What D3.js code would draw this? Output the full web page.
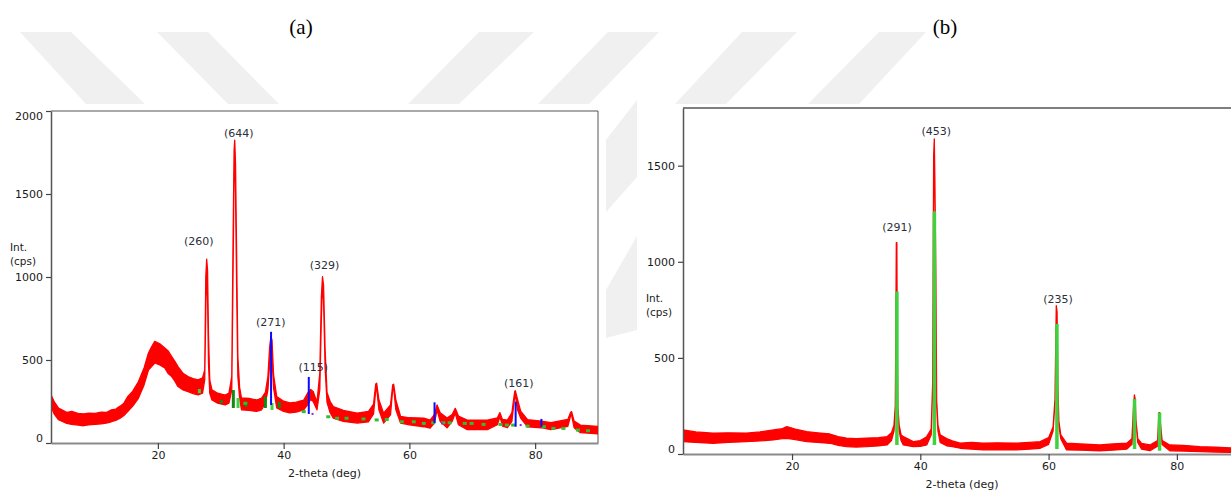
<!DOCTYPE html>
<html>
<head>
<meta charset="utf-8">
<script src="https://cdn.jsdelivr.net/npm/d3@7"></script>
<style>
  html, body { margin: 0; padding: 0; background: #fff; }
  svg { display: block; }
  .tick text { font-family: "DejaVu Sans", Verdana, sans-serif; font-size: 11px; fill: #1a1a1a; }
</style>
</head>
<body>
<svg id="chart" width="1231" height="490"></svg>
<script>
// ---- data ----
const xTicks = [20, 40, 60, 80];
const yTicksA = [0, 500, 1000, 1500, 2000];
const yTicksB = [0, 500, 1000, 1500];

// measured trace, as [2-theta, low edge, high edge] of the noisy band (cps)
const traceA = [
  [3.0, 220, 290], [3.5, 175, 250], [4.2, 140, 210], [5.5, 118, 185], [6.3, 112, 190], [7.3, 108, 178],
  [8.2, 104, 176], [9.0, 110, 180], [10.0, 112, 178], [11.0, 116, 186], [11.8, 120, 184], [12.6, 128, 200],
  [13.3, 136, 204], [14.0, 150, 222], [14.6, 166, 240], [15.2, 189, 279], [16.0, 222, 312], [16.9, 269, 369],
  [17.8, 350, 452], [18.5, 440, 542], [19.0, 460, 580], [19.5, 482, 612], [20.3, 470, 598], [21.1, 452, 572],
  [21.6, 420, 556], [22.2, 400, 520], [22.7, 372, 492], [23.2, 340, 460], [24.0, 320, 420], [24.8, 309, 400],
  [25.6, 298, 388], [26.4, 290, 380], [27.1, 300, 392], [27.45, 380, 440],
  [27.62, 800, 1000], [27.76, 1060, 1107], [27.9, 880, 1040], [28.05, 480, 650], [28.25, 300, 380],
  [28.6, 259, 320], [29.5, 240, 300], [30.7, 229, 289], [31.3, 240, 300], [31.75, 320, 400],
  [31.95, 1000, 1200], [32.12, 1650, 1760], [32.22, 1760, 1825], [32.35, 1500, 1680], [32.52, 950, 1150],
  [32.72, 400, 520], [33.0, 270, 335], [33.3, 200, 271], [34.5, 196, 268], [35.7, 190, 259],
  [36.5, 200, 270], [37.1, 240, 305], [37.5, 320, 400], [37.78, 480, 580], [37.98, 600, 642],
  [38.15, 520, 620], [38.4, 330, 410], [38.9, 212, 280], [40.0, 190, 252], [41.0, 181, 241],
  [42.0, 186, 246], [43.2, 199, 259], [43.8, 230, 300], [44.3, 262, 322], [44.7, 250, 310],
  [45.3, 200, 245], [45.75, 320, 420], [46.0, 750, 880], [46.18, 960, 1002], [46.35, 860, 950],
  [46.6, 450, 560], [46.9, 245, 305], [47.4, 182, 250], [47.9, 150, 220], [49.5, 130, 196],
  [51.7, 120, 180], [53.5, 128, 190], [54.3, 175, 235], [54.65, 320, 355], [54.8, 330, 360],
  [55.15, 200, 260], [55.9, 120, 180], [57.0, 170, 230], [57.35, 325, 350], [57.5, 330, 354],
  [57.85, 200, 260], [58.6, 120, 160], [60.0, 110, 152], [62.3, 98, 150], [63.3, 90, 138],
  [64.0, 122, 172], [64.4, 200, 229], [64.9, 130, 182], [66.0, 92, 150], [66.8, 130, 172],
  [67.3, 180, 209], [67.8, 110, 162], [69.2, 80, 138], [72.4, 80, 138], [74.0, 110, 152],
  [74.4, 160, 183], [74.8, 102, 142], [75.6, 92, 138], [76.3, 130, 182], [76.75, 280, 310],
  [76.85, 290, 315], [77.2, 200, 262], [77.7, 150, 192], [78.8, 98, 140], [81.0, 92, 132],
  [82.5, 80, 122], [85.2, 100, 142], [85.65, 165, 185], [85.8, 168, 189], [86.2, 92, 132],
  [87.2, 62, 108], [90.0, 55, 100]
];

const traceB = [
  [3.0, 64, 125], [5.0, 60, 115], [7.7, 56, 108], [10.0, 60, 110], [12.9, 64, 109],
  [15.0, 68, 115], [17.1, 73, 125], [18.5, 80, 132], [19.2, 82, 142], [20.5, 75, 130], [22.3, 64, 116],
  [24.0, 60, 110], [25.9, 56, 104], [27.2, 45, 90], [28.5, 38, 83], [30.0, 36, 80],
  [31.6, 38, 83], [33.5, 42, 85], [34.8, 47, 90], [35.5, 70, 110], [35.9, 120, 150],
  [36.1, 230, 250], [36.18, 600, 625], [36.26, 1080, 1100], [36.34, 1080, 1100], [36.42, 500, 520],
  [36.5, 230, 245], [36.7, 120, 150], [37.0, 70, 100], [37.35, 47, 90], [38.9, 38, 64],
  [40.0, 40, 70], [41.0, 47, 90], [41.7, 100, 130], [41.93, 350, 370], [42.08, 1500, 1550],
  [42.18, 1600, 1639], [42.28, 1300, 1400], [42.42, 900, 932], [42.55, 250, 280], [42.75, 120, 150],
  [43.1, 60, 100], [44.1, 43, 80], [45.0, 38, 68], [46.2, 30, 56], [48.0, 25, 60],
  [49.8, 21, 56], [52.0, 22, 58], [55.0, 21, 56], [57.0, 25, 60], [58.7, 30, 64],
  [60.0, 50, 85], [60.7, 120, 140], [61.0, 270, 286], [61.2, 750, 772], [61.32, 700, 740],
  [61.45, 340, 354], [61.6, 150, 170], [61.9, 80, 100], [62.8, 21, 56], [65.0, 20, 52],
  [68.0, 17, 47], [70.0, 20, 52], [72.2, 26, 56], [73.0, 50, 80], [73.25, 200, 250],
  [73.38, 290, 307], [73.5, 250, 286], [73.62, 170, 177], [73.9, 60, 80], [74.5, 25, 55],
  [75.8, 17, 47], [77.0, 40, 70], [77.2, 200, 215], [77.32, 200, 215], [77.45, 150, 156],
  [77.7, 50, 70], [78.9, 17, 47], [81.0, 15, 45], [83.6, 12, 38], [86.0, 10, 35],
  [88.3, 8, 32], [90.0, 8, 30]
];

// reference pattern lines: [2-theta, from, to]
const blueA = [[38.0, 229, 670], [44.0, 175, 398], [64.0, 120, 245], [76.9, 98, 249], [81.0, 98, 145]];
// green reference bars: [2-theta, from, to, dark?]
const greenA = [
  [26.6, 300, 325, 0], [30.1, 240, 260, 1], [32.0, 211, 319, 1], [32.75, 211, 271, 0],
  [34.0, 219, 249, 1], [37.1, 211, 279, 1], [38.15, 199, 241, 0], [39.3, 211, 249, 1]
];
// small green dashes sitting on the background: [2-theta, cps]
const greenDashA = [
  [33.9, 239], [43.2, 189], [47.1, 158], [48.5, 149], [50.0, 149], [52.7, 145], [54.8, 139],
  [56.4, 142], [58.8, 128], [60.7, 128], [62.3, 118], [63.8, 122], [65.4, 122], [66.4, 122],
  [68.8, 118], [69.9, 118], [71.8, 112], [74.5, 112], [75.5, 108], [76.5, 108], [78.8, 102],
  [81.4, 98], [82.9, 88], [84.5, 88], [86.8, 78], [88.4, 74]
];
const purpleA = [[44.6, 175], [65.2, 118], [77.7, 108]];
const greenB = [[36.35, 47, 845], [42.2, 47, 1262], [61.3, 26, 677], [73.4, 26, 286], [77.3, 17, 215]];

// peak annotations: [text, 2-theta, cps] (label centre)
const labelsA = [["(260)", 26.5, 1213], ["(644)", 32.86, 1867], ["(271)", 37.96, 725],
  ["(115)", 44.7, 455], ["(329)", 46.5, 1072], ["(161)", 77.4, 361]];
const labelsB = [["(291)", 36.37, 1179], ["(453)", 42.48, 1677], ["(235)", 61.47, 806]];

// ---- drawing ----
const svg = d3.select("#chart");

// faint watermark stripes behind everything
const stripes = [
  [[20, 32], [71, 32], [145, 104], [86, 104]],
  [[157, 32], [208, 32], [279, 104], [228, 104]],
  [[479, 32], [534, 32], [459, 104], [408, 104]],
  [[608, 32], [659, 32], [589, 104], [538, 104]],
  [[742, 32], [797, 32], [726, 104], [675, 104]],
  [[879, 32], [926, 32], [859, 104], [808, 104]],
  [[637, 100], [637, 177], [606, 212], [606, 140]],
  [[637, 236], [637, 330], [606, 338], [606, 290]]
];
svg.append("g").selectAll("polygon").data(stripes).join("polygon")
  .attr("points", d => d.map(p => p.join(",")).join(" "))
  .attr("fill", "#f0f0f0");

function drawPanel(o) {
  const x = d3.scaleLinear().domain([3, 90]).range([o.left, o.right]);
  const y = d3.scaleLinear().domain([0, o.yMax]).range([o.bottom, o.top]);
  const g = svg.append("g");

  g.append("clipPath").attr("id", "clip" + o.id).append("rect")
    .attr("x", o.left).attr("y", o.top - 4)
    .attr("width", o.right - o.left).attr("height", o.bottom - o.top + 4);

  // frame (top + right)
  g.append("path")
    .attr("d", `M${o.left},${o.top}H${o.right}V${o.bottom}`)
    .attr("fill", "none").attr("stroke", "#555").attr("stroke-width", o.frameW);

  const plot = g.append("g").attr("clip-path", `url(#clip${o.id})`);

  const area = d3.area()
    .x(d => x(d[0]))
    .y0(d => y(d[1]))
    .y1(d => y(d[2]));

  plot.append("path")
    .datum(o.trace)
    .attr("d", area)
    .attr("fill", "#ff0000")
    .attr("stroke", "#ff0000")
    .attr("stroke-width", 1.3)
    .attr("stroke-linejoin", "round");

  // reference markers
  (o.green || []).forEach(d => {
    plot.append("rect")
      .attr("x", x(d[0]) - o.barW / 2).attr("width", o.barW)
      .attr("y", y(d[2])).attr("height", y(d[1]) - y(d[2]))
      .attr("fill", d[3] ? "#118a11" : "#3fd13f");
  });
  (o.dashes || []).forEach(d => {
    plot.append("rect")
      .attr("x", x(d[0]) - 2).attr("width", 4)
      .attr("y", y(d[1]) - 1.5).attr("height", 3)
      .attr("fill", "#2fbf2f");
  });
  (o.purple || []).forEach(d => {
    plot.append("rect")
      .attr("x", x(d[0]) - 1).attr("width", 2)
      .attr("y", y(d[1]) - 1).attr("height", 2)
      .attr("fill", "#8a2be2");
  });
  (o.blue || []).forEach(d => {
    plot.append("line")
      .attr("x1", x(d[0])).attr("x2", x(d[0]))
      .attr("y1", y(d[1])).attr("y2", y(d[2]))
      .attr("stroke", "#0a0aff").attr("stroke-width", 2);
  });

  // peak labels
  g.selectAll("text.peak").data(o.labels).join("text")
    .attr("class", "peak")
    .attr("x", d => x(d[1]))
    .attr("y", d => y(d[2]))
    .attr("text-anchor", "middle")
    .attr("dominant-baseline", "central")
    .style("font-family", "DejaVu Sans, Verdana, sans-serif")
    .style("font-size", "11px")
    .style("fill", "#2b2f3a")
    .text(d => d[0]);

  // axes
  const fmtInt = d3.format("d");
  const xAxis = g.append("g")
    .attr("transform", `translate(0,${o.bottom})`)
    .call(d3.axisBottom(x).tickValues(xTicks).tickFormat(fmtInt).tickSize(6).tickSizeOuter(0).tickPadding(2));
  xAxis.select(".domain").attr("stroke", "#8a8a8a").attr("stroke-width", 2);
  xAxis.selectAll(".tick line").attr("stroke", "#444").attr("stroke-width", 1.2);

  const yAxis = g.append("g")
    .attr("transform", `translate(${o.left},0)`)
    .call(d3.axisLeft(y).tickValues(o.yTicks).tickFormat(fmtInt).tickSize(5).tickSizeOuter(0).tickPadding(3));
  yAxis.select(".domain").attr("stroke", "#555").attr("stroke-width", 1.5);
  yAxis.selectAll(".tick line").attr("stroke", "#444").attr("stroke-width", 1.2);
  // end labels sit inside the frame
  yAxis.selectAll(".tick text")
    .attr("dy", d => d === 0 ? "-0.15em" : d === o.yMax ? "0.8em" : "0.32em");

  const axisFont = "DejaVu Sans, Verdana, sans-serif";
  g.append("text")
    .attr("x", o.intX).attr("y", o.intY)
    .style("font-family", axisFont).style("font-size", "10.5px").style("fill", "#1a1a1a")
    .text("Int.");
  g.append("text")
    .attr("x", o.intX).attr("y", o.intY + 14)
    .style("font-family", axisFont).style("font-size", "10.5px").style("fill", "#1a1a1a")
    .text("(cps)");
  g.append("text")
    .attr("x", (o.left + o.right) / 2).attr("y", o.bottom + 34)
    .attr("text-anchor", "middle")
    .style("font-family", axisFont).style("font-size", "11px").style("fill", "#1a1a1a")
    .text("2-theta (deg)");

  svg.append("text")
    .attr("x", o.titleX).attr("y", 34)
    .attr("text-anchor", "middle")
    .style("font-family", "Liberation Serif, Times New Roman, serif")
    .style("font-size", "21px")
    .style("fill", "#000")
    .text(o.title);
}

drawPanel({
  id: "A", left: 51, right: 598, top: 111, bottom: 443, yMax: 2000, yTicks: yTicksA,
  trace: traceA, green: greenA, dashes: greenDashA, purple: purpleA, blue: blueA,
  labels: labelsA, barW: 3, frameW: 1, intX: 10, intY: 251, title: "(a)", titleX: 301
});
drawPanel({
  id: "B", left: 683, right: 1241, top: 108, bottom: 454, yMax: 1800, yTicks: yTicksB,
  trace: traceB, green: greenB, labels: labelsB, barW: 3.5, frameW: 1.5,
  intX: 646, intY: 302, title: "(b)", titleX: 945
});
</script>
</body>
</html>
